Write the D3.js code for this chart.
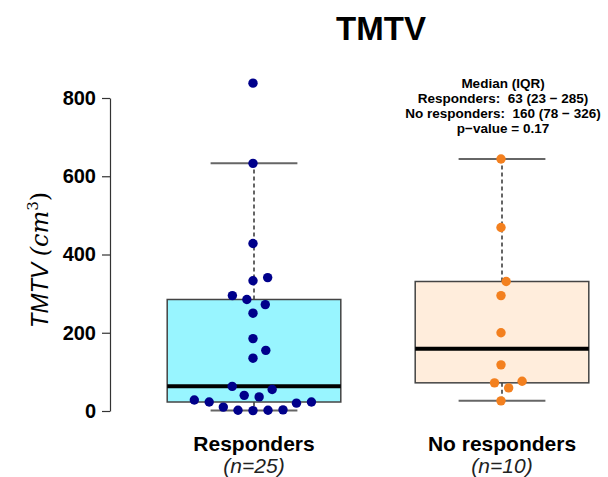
<!DOCTYPE html>
<html>
<head>
<meta charset="utf-8">
<script src="https://cdn.jsdelivr.net/npm/d3@7"></script>
<style>
  body { margin: 0; background: #fff; }
  text { font-family: "Liberation Sans", Arial, sans-serif; }
</style>
</head>
<body>
<div id="container"></div>
<script>
'use strict'
// groups + the raw TMTV values (cm3)
const groups = ['Responders', 'No responders'];
const groupN = ['(n=25)', '(n=10)'];
const responders = [838, 633, 428, 341, 333, 295, 285, 272, 250, 185, 155, 135, 63, 55, 40, 36, 28, 23, 23, 20, 10, 3, 2, 2, 1];
const noResponders = [644, 469, 331, 295, 200, 118, 76, 72, 59, 26];
const yTicks = [0, 200, 400, 600, 800];
const statLines = ['Median (IQR)', 'Responders:  63 (23 \u2212 285)', 'No responders:  160 (78 \u2212 326)', 'p\u2212value = 0.17'];

const fills = ['#98f5ff', '#ffeddc'];
const dotCols = ['#00008b', '#f3801f'];

const width = 608, height = 477;

const svg = d3.select('#container').append('svg')
    .attr('width', width)
    .attr('height', height);

const x = d3.scaleBand().domain(groups).range([130, 626]).padding(0);
const y = d3.scaleLinear().domain([0, 800]).range([411, 98]);

// axis
const yAxis = svg.append('g')
    .attr('transform', 'translate(110,0)')
    .call(d3.axisLeft(y).tickValues(yTicks).tickSize(8).tickSizeOuter(0).tickPadding(6));
yAxis.select('.domain').attr('stroke', '#333').attr('stroke-width', 1.2);
yAxis.selectAll('.tick line').attr('stroke', '#333').attr('stroke-width', 1.2);
yAxis.selectAll('.tick text')
    .attr('fill', '#000')
    .style('font-size', '20px')
    .style('font-weight', 'bold')
    .style('font-family', '"Liberation Sans", Arial, sans-serif');

// R style boxplot stats (hinges + 1.5 IQR whiskers)
function boxStats(vals) {
    const s = vals.slice().sort(d3.ascending);
    const n = s.length;
    const half = Math.floor((n + 1) / 2);
    const lo = s.slice(0, half), hi = s.slice(n - half);
    const q1 = d3.median(lo), q3 = d3.median(hi), med = d3.median(s);
    const iqr = q3 - q1;
    const wLo = d3.min(s.filter(v => v >= q1 - 1.5 * iqr));
    const wHi = d3.max(s.filter(v => v <= q3 + 1.5 * iqr));
    return {q1, q3, med, wLo, wHi};
}

// beeswarm placement in pixel space, ascending order
function swarm(vals, cx, gap) {
    const pts = vals.map(v => ({v, py: y(v)})).sort((a, b) => a.v - b.v);
    const placed = [];
    pts.forEach(p => {
        let cands = [0];
        placed.forEach(q => {
            const dy = Math.abs(q.py - p.py);
            if (dy < gap) {
                const dx = Math.sqrt(gap * gap - dy * dy);
                cands.push(q.off + dx + 0.01, q.off - dx - 0.01);
            }
        });
        cands.sort((a, b) => Math.abs(a) - Math.abs(b) || b - a);
        const ok = cands.find(c => placed.every(q => {
            const dx = q.off - c, dy = q.py - p.py;
            return dx * dx + dy * dy >= gap * gap - 0.1;
        }));
        p.off = ok;
        placed.push(p);
    });
    return pts.map(p => ({v: p.v, px: cx + p.off, py: p.py}));
}

const allData = [responders, noResponders];
const bw = x.bandwidth();

allData.forEach((vals, i) => {
    const g = groups[i];
    const cx = x(g) + bw / 2;
    const st = boxStats(vals);
    const gg = svg.append('g');

    // whiskers
    gg.selectAll('.wh').data([[st.q3, st.wHi], [st.q1, st.wLo]]).enter().append('line')
        .attr('x1', cx).attr('x2', cx)
        .attr('y1', d => y(d[0])).attr('y2', d => y(d[1]))
        .attr('stroke', '#333').attr('stroke-width', 1.5)
        .attr('stroke-dasharray', '4,3');
    gg.selectAll('.cap').data([st.wHi, st.wLo]).enter().append('line')
        .attr('x1', cx - bw * 0.175).attr('x2', cx + bw * 0.175)
        .attr('y1', d => y(d)).attr('y2', d => y(d))
        .attr('stroke', '#666').attr('stroke-width', 2);

    // box
    gg.append('rect')
        .attr('x', cx - bw * 0.35).attr('width', bw * 0.7)
        .attr('y', y(st.q3)).attr('height', y(st.q1) - y(st.q3))
        .attr('fill', fills[i])
        .attr('stroke', '#444').attr('stroke-width', 1.5);
    gg.append('line')
        .attr('x1', cx - bw * 0.35).attr('x2', cx + bw * 0.35)
        .attr('y1', y(st.med)).attr('y2', y(st.med))
        .attr('stroke', '#000').attr('stroke-width', 4);

    // points
    gg.selectAll('circle').data(swarm(vals, cx - 1, 15)).enter().append('circle')
        .attr('cx', d => d.px).attr('cy', d => d.py)
        .attr('r', 4.7)
        .attr('fill', dotCols[i]);

    // category labels
    svg.append('text')
        .attr('x', cx).attr('y', 451)
        .attr('text-anchor', 'middle')
        .style('font-size', '21px').style('font-weight', 'bold')
        .text(g);
    svg.append('text')
        .attr('x', cx).attr('y', 473)
        .attr('text-anchor', 'middle')
        .style('font-size', '21px').style('font-style', 'italic')
        .attr('fill', '#222')
        .text(groupN[i]);
});

// title
svg.append('text')
    .attr('x', 381).attr('y', 40)
    .attr('text-anchor', 'middle')
    .style('font-size', '33px').style('font-weight', 'bold')
    .text('TMTV');

// y label  TMTV (cm^3)
const yl = svg.append('text')
    .attr('transform', 'translate(48,260) rotate(-90)')
    .attr('text-anchor', 'middle')
    .style('font-size', '24px');
yl.append('tspan').style('font-style', 'italic').text('TMTV ');
yl.append('tspan').style('font-family', '"DejaVu Serif", serif').style('font-style', 'italic').text('(');
yl.append('tspan').style('font-family', '"DejaVu Serif", serif').style('font-style', 'italic').text('cm');
yl.append('tspan').style('font-family', '"DejaVu Serif", serif').style('font-size', '15px').attr('dy', -10).text('3');
yl.append('tspan').style('font-family', '"DejaVu Serif", serif').attr('dy', 10).text(')');

// stats annotation
svg.append('g').selectAll('text').data(statLines).enter().append('text')
    .attr('x', 503)
    .attr('y', (d, i) => 88 + i * 15)
    .attr('text-anchor', 'middle')
    .style('white-space', 'pre')
    .style('font-size', '13.5px').style('font-weight', 'bold')
    .text(d => d);
</script>
</body>
</html>
